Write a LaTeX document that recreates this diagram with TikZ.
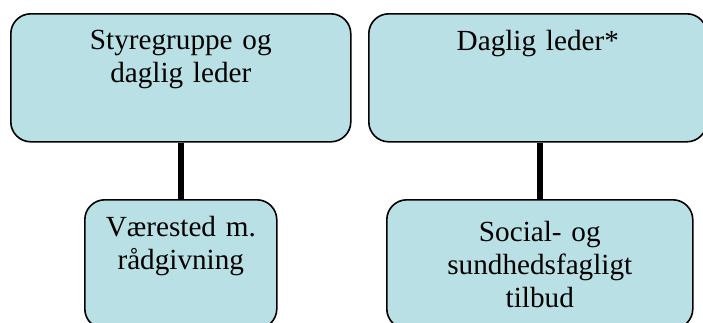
\documentclass[tikz,border=0pt]{standalone}
\usepackage{fontspec}
\setmainfont{Liberation Serif}
\usepackage{tikz}
\usetikzlibrary{positioning, calc}

\definecolor{boxfill}{RGB}{185,224,228}

\begin{document}
\begin{tikzpicture}[x=0.5pt, y=-0.5pt,
    orgbox/.style={draw, line width=0.8pt, rounded corners=10pt, fill=boxfill,
        anchor=north west, inner sep=0pt, align=center,
        font=\fontsize{14.6pt}{16.5pt}\selectfont},
    linkline/.style={line width=3pt}]
    % Fix the page size and cut off what runs past it
    \path[use as bounding box, clip] (0,0) rectangle (703,322);

    % Draw the upper boxes
    \node[orgbox, text width=170pt, text height=18pt, text depth=46pt] (styre) at (10,13)
        {Styregruppe og\\daglig leder};
    \node[orgbox, text width=169pt, text height=18.5pt, text depth=45.5pt] (leder) at (368,13)
        {Daglig leder*};

    % Draw the lower boxes
    \node[orgbox, text width=96pt, text height=18.5pt, text depth=46pt] (vaerested) at (84,199)
        {Værested m.\\rådgivning};
    \node[orgbox, text width=153pt, text height=21pt, text depth=43.5pt] (tilbud) at (386,199)
        {Social- og\\sundhedsfagligt\\tilbud};

    % Draw the connecting lines
    \draw[linkline] (styre.south) -- (vaerested.north);
    \draw[linkline] (leder.south -| tilbud.north) -- (tilbud.north);
\end{tikzpicture}
\end{document}
